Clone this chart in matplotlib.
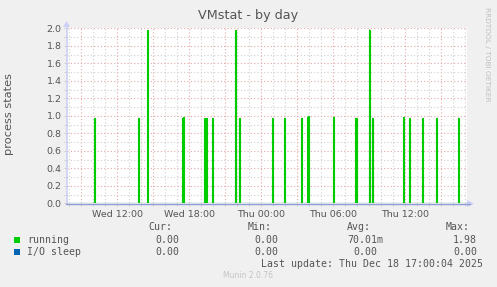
import matplotlib
matplotlib.use("Agg")
import matplotlib.pyplot as plt
import numpy as np

# ---- data (hours since Wed 00:00) ----
running_times = [10.083, 13.75, 14.5, 17.42, 17.5, 19.25, 19.42, 19.92, 21.875, 22.17,
                 24.92, 25.92, 27.33, 27.83, 27.92, 29.97, 31.83, 31.92, 32.98, 33.25,
                 35.88, 36.37, 37.42, 38.6, 40.4]
running_vals = [0.98, 0.98, 1.98, 0.98, 0.99, 0.98, 0.98, 0.98, 1.98, 0.98,
                0.98, 0.98, 0.98, 0.99, 1.0, 0.99, 0.98, 0.98, 1.98, 0.98,
                0.99, 0.98, 0.98, 0.98, 0.98]
io_sleep_vals = [0.0, 0.0]
x_start, x_end = 7.8, 41.133
xtick_pos = [12, 18, 24, 30, 36]
xtick_labels = ["Wed 12:00", "Wed 18:00", "Thu 00:00", "Thu 06:00", "Thu 12:00"]
ytick_labels = ["0.0", "0.2", "0.4", "0.6", "0.8", "1.0", "1.2", "1.4", "1.6", "1.8", "2.0"]
legend_names = ["running", "I/O sleep"]
legend_colors = ["#00CC00", "#0066B3"]
stats = [["0.00", "0.00", "70.01m", "1.98"], ["0.00", "0.00", "0.00", "0.00"]]
stat_headers = ["Cur:", "Min:", "Avg:", "Max:"]

W, H = 497, 287
fig = plt.figure(figsize=(W / 100, H / 100), dpi=100, facecolor="#F0F0F0")

def P(x, y):
    return (x / W, 1 - y / H)

L, R, T, B = 67, 467, 28.3, 203.3
ax = fig.add_axes([L / W, 1 - B / H, (R - L) / W, (B - T) / H])
ax.set_facecolor("white")
ax.set_xlim(x_start, x_end)
ax.set_ylim(0, 2.0)

# grid
dot = (0, (1, 2))
for h in np.arange(8, 42, 1):
    c = "#e4a8a8" if h % 3 == 0 else "#cfcfcf"
    ax.axvline(h, color=c, lw=0.8, ls=dot, zorder=1)
for i in range(1, 21):
    v = i * 0.1
    c = "#e4a8a8" if i % 2 == 0 else "#cfcfcf"
    ax.axhline(v, color=c, lw=0.8, ls=dot, zorder=1)

# spikes (each sample = 5 min)
w = 2.5 / 60
xs, ys = [x_start], [0.0]
for t, v in zip(running_times, running_vals):
    xs += [t - w, t - w, t + w, t + w]
    ys += [0, v, v, 0]
xs.append(x_end); ys.append(0.0)
ax.fill_between(xs, ys, 0, color="#00CC00", alpha=0.3, lw=0, zorder=2)
ax.plot(xs, ys, color="#00CC00", lw=0.8, zorder=3)
ax.plot([x_start, x_end], io_sleep_vals, color="#0066B3", lw=0.8, zorder=3)

for s in ax.spines.values():
    s.set_visible(False)
ax.set_xticks(xtick_pos)
ax.set_xticklabels(xtick_labels)
ax.set_yticks(np.arange(0, 2.01, 0.2))
ax.set_yticklabels(ytick_labels)
ax.set_xticks(np.arange(8, 42, 1), minor=True)
ax.set_yticks(np.arange(0, 2.01, 0.1), minor=True)
ax.tick_params(axis="both", which="both", labelsize=6.8, labelcolor="#555555",
               color="#c8c8c8", length=2, width=0.6, pad=2)
ax.tick_params(axis="x", which="both", pad=3)

# axis lines with arrows
fig.add_artist(plt.Line2D([66.5 / W, 66.5 / W], [1 - 204 / H, 1 - 24 / H], color="#ccd0f4", lw=1.2))
fig.add_artist(plt.Polygon([P(63, 27), P(70, 27), P(66.5, 21)], closed=True, color="#ccd0f4", lw=0))
fig.add_artist(plt.Line2D([66 / W, 470 / W], [1 - 203.5 / H, 1 - 203.5 / H], color="#8f9bd6", lw=1.0))
fig.add_artist(plt.Polygon([P(467, 200), P(467, 207), P(474, 203.5)], closed=True, color="#ccd0f4", lw=0))

# texts
fig.text(*P(248, 16), "VMstat - by day", ha="center", va="center", fontsize=9.2, color="#555555")
fig.text(*P(9.5, 114), "process states", ha="center", va="center", rotation=90, fontsize=8.2, color="#555555")
fig.text(*P(487, 54), "RRDTOOL / TOBI OETIKER", ha="center", va="center", rotation=270, fontsize=5.3, color="#bfbfbf")

mono = dict(family="DejaVu Sans Mono", fontsize=7.1, color="#555555", va="center")
hdr_right = [172, 272, 371, 470]
for hx, hdr in zip(hdr_right, stat_headers):
    fig.text(*P(hx, 227), hdr, ha="right", **mono)
val_right = [[179, 278, 383, 477], [179, 278, 377, 477]]
for row, (name, col, vals) in enumerate(zip(legend_names, legend_colors, stats)):
    y = 240 + row * 12.3
    fig.add_artist(plt.Rectangle((14 / W, 1 - (y + 3) / H), 6 / W, 6 / H, color=col, lw=0))
    fig.text(*P(27, y), name, ha="left", **mono)
    for vx, v in zip(val_right[row], vals):
        fig.text(*P(vx, y), v, ha="right", **mono)
fig.text(*P(483, 264), "Last update: Thu Dec 18 17:00:04 2025", ha="right", **mono)
fig.text(*P(248, 276), "Munin 2.0.76", ha="center", va="center", fontsize=5.5, color="#c4c4c4")

fig.savefig("out.png", dpi=100, facecolor=fig.get_facecolor())
